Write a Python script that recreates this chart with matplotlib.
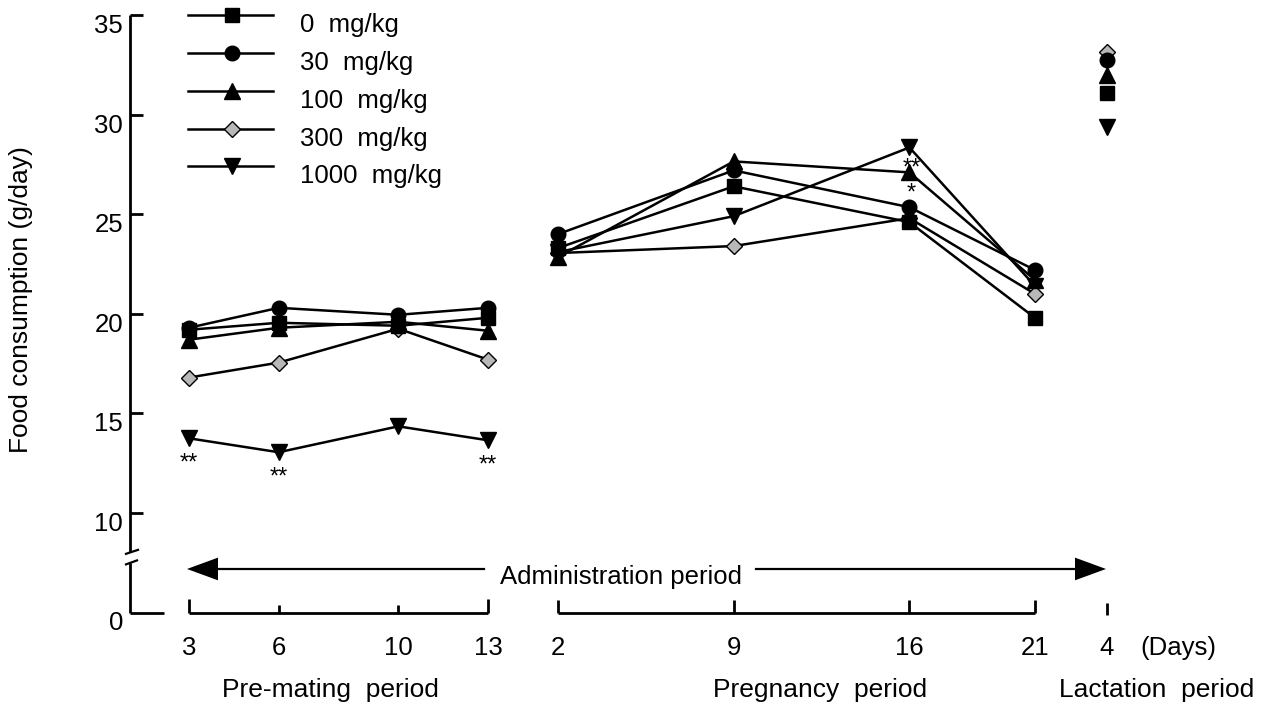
#!/usr/bin/env python3

# Food consumption per dose group, three study periods on one axis

import matplotlib as mpl
mpl.use("Agg")

import matplotlib.pyplot as plt             # noqa

plt.rcParams['font.family'] = ['Liberation Sans', 'DejaVu Sans']

doses = ['0  mg/kg', '30  mg/kg', '100  mg/kg', '300  mg/kg', '1000  mg/kg']

pre_days = [3, 6, 10, 13]
preg_days = [2, 9, 16, 21]
lact_day = 4

# food consumption (g/day), one row per dose group
pre_vals = [[19.2, 19.55, 19.4, 19.8],
            [19.3, 20.3, 19.95, 20.3],
            [18.7, 19.3, 19.6, 19.15],
            [16.8, 17.55, 19.25, 17.7],
            [13.75, 13.05, 14.35, 13.65]]
preg_vals = [[23.3, 26.4, 24.6, 19.8],
             [24.0, 27.2, 25.35, 22.2],
             [22.85, 27.65, 27.1, 21.7],
             [23.05, 23.4, 24.8, 21.0],
             [23.1, 24.9, 28.35, 21.4]]
lact_vals = [31.1, 32.75, 32.0, 33.15, 29.4]

# significance marks: (day, dose index, text)
sig_pre = [(3, 4, '**'), (6, 4, '**'), (13, 4, '**')]
sig_preg = [(16, 4, '**'), (16, 2, '*')]

yticks = [10, 15, 20, 25, 30, 35]

markers = ['s', 'o', '^', 'D', 'v']
msizes = [10.5, 10.5, 11.5, 8.5, 11.5]
faces = ['black', 'black', 'black', '#b8b8b8', 'black']

FS = 18.5
FL = 19


def x_pre(d):
  return 189 + (d - 3) * 29.9


def x_preg(d):
  return 558 + (d - 2) * 25.1


X_LACT = 1107


def makegraph():
  fig = plt.figure(figsize=(12.68, 7.04), dpi=100)
  ax = fig.add_axes([0, 0, 1, 1])
  ax.set_xlim(0, 1268)
  # 35 sits 15 px from the top, 19.92 px per g/day
  ax.set_ylim(35 - (704 - 15) / 19.92, 35 + 15 / 19.92)
  ax.axis('off')

  k = dict(color='black', lw=2.0, solid_capstyle='butt')

  # y axis with a break below 10
  ax.plot([130, 130], [35, 8.05], **k)
  ax.plot([130, 130], [7.5, 5], **k)
  ax.plot([130, 164], [5, 5], **k)
  ax.plot([126, 138], [7.95, 8.15], color='black', lw=1.6)
  ax.plot([126, 137], [7.42, 7.62], color='black', lw=1.6)
  for t in yticks:
    ax.plot([130, 143], [t, t], **k)
    ax.text(123, t - 0.55, str(t), ha='right', va='center', fontsize=FS)
  ax.text(123, 5 - 0.5, '0', ha='right', va='center', fontsize=FS)
  ax.text(21, 20.7, 'Food consumption (g/day)', rotation=90,
          ha='center', va='center', fontsize=FL)

  # period brackets on the baseline
  ax.plot([x_pre(pre_days[0]), x_pre(pre_days[-1])], [5, 5], **k)
  for i, d in enumerate(pre_days):
    h = 0.7 if i in (0, len(pre_days) - 1) else 0.4
    ax.plot([x_pre(d), x_pre(d)], [5, 5 + h], **k)
    ax.text(x_pre(d), 3.22, str(d), ha='center', va='center', fontsize=FS)
  ax.plot([x_preg(preg_days[0]), x_preg(preg_days[-1])], [5, 5], **k)
  for d in preg_days:
    ax.plot([x_preg(d), x_preg(d)], [5, 5.65], **k)
    ax.text(x_preg(d), 3.22, str(d), ha='center', va='center', fontsize=FS)
  ax.plot([X_LACT, X_LACT], [4.9, 5.5], **k)
  ax.text(X_LACT, 3.22, str(lact_day), ha='center', va='center', fontsize=FS)
  ax.text(1178, 3.22, '(Days)', ha='center', va='center', fontsize=FS)

  ax.text(330, 1.11, 'Pre-mating  period', ha='center', va='center', fontsize=FL)
  ax.text(820, 1.11, 'Pregnancy  period', ha='center', va='center', fontsize=FL)
  ax.text(1157, 1.11, 'Lactation  period', ha='center', va='center', fontsize=FL)

  # administration arrow
  ya = 7.19
  ax.fill([187, 218, 218], [ya, ya + 0.57, ya - 0.57], color='black', lw=0)
  ax.plot([218, 484], [ya, ya], color='black', lw=1.6)
  ax.text(621, ya - 0.38, 'Administration period', ha='center', va='center', fontsize=FS)
  ax.plot([756, 1075], [ya, ya], color='black', lw=1.6)
  ax.fill([1075, 1075, 1106], [ya + 0.57, ya - 0.57, ya], color='black', lw=0)

  # data series
  for i in range(len(doses)):
    st = dict(marker=markers[i], ms=msizes[i], mfc=faces[i], mec='black',
              mew=1.0, color='black', lw=1.8)
    ax.plot([x_pre(d) for d in pre_days], pre_vals[i], **st, zorder=5 - i)
    ax.plot([x_preg(d) for d in preg_days], preg_vals[i], **st, zorder=5 - i)
    ax.plot([X_LACT], [lact_vals[i]], **st, zorder=5 - i)

  for d, i, s in sig_pre:
    ax.text(x_pre(d), pre_vals[i][pre_days.index(d)] - 1.58, s,
            ha='center', va='baseline', fontsize=17)
  for d, i, s in sig_preg:
    ax.text(x_preg(d) + 2, preg_vals[i][preg_days.index(d)] - 1.35, s,
            ha='center', va='baseline', fontsize=17)

  # legend drawn by hand
  for i, lab in enumerate(doses):
    yl = 35 - i * 1.9
    ax.plot([188, 273], [yl, yl], color='black', lw=1.8)
    ax.plot([232], [yl], marker=markers[i], ms=msizes[i], mfc=faces[i],
            mec='black', mew=1.0, color='black')
    ax.text(300, yl - 0.5, lab, ha='left', va='center', fontsize=FS)

  plt.savefig('out.png', dpi=100)


if __name__ == "__main__":
  makegraph()
